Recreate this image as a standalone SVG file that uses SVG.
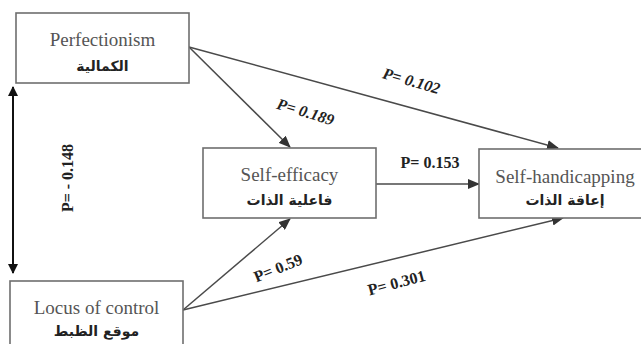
<svg xmlns="http://www.w3.org/2000/svg" width="641" height="344" viewBox="0 0 641 344">
<style>
.box{fill:#fff;stroke:#6e6e6e;stroke-width:1.6}
.en{font-family:"Liberation Serif","Times New Roman",serif;font-size:19px;fill:#555;text-anchor:middle}
.ar{font-family:"DejaVu Sans","Noto Sans",sans-serif;font-size:14px;font-weight:bold;fill:#222;text-anchor:middle}
.lbl{font-family:"Liberation Serif","Times New Roman",serif;font-size:16px;font-weight:bold;fill:#222;text-anchor:middle}
.it{font-style:italic}
.ln{stroke:#4a4a4a;stroke-width:1.5;fill:none}
</style>
<defs>
<marker id="ah" markerWidth="12" markerHeight="10" refX="11" refY="5" orient="auto" markerUnits="userSpaceOnUse">
<path d="M0,0 L12,5 L0,10 Z" fill="#333"/>
</marker>
<marker id="ab" markerWidth="10" markerHeight="10" refX="9" refY="5" orient="auto" markerUnits="userSpaceOnUse">
<path d="M0,0 L10,5 L0,10 Z" fill="#111"/>
</marker>
<marker id="as" markerWidth="10" markerHeight="10" refX="1" refY="5" orient="auto" markerUnits="userSpaceOnUse">
<path d="M10,0 L0,5 L10,10 Z" fill="#111"/>
</marker>
</defs>
<g id="connectors">
<line class="ln" x1="189" y1="47" x2="290" y2="147" marker-end="url(#ah)"/>
<line class="ln" x1="189" y1="47" x2="558" y2="148" marker-end="url(#ah)"/>
<line class="ln" x1="376" y1="184" x2="479" y2="184" marker-end="url(#ah)"/>
<line class="ln" x1="183" y1="310" x2="290" y2="219" marker-end="url(#ah)"/>
<line class="ln" x1="183" y1="310" x2="563" y2="218" marker-end="url(#ah)"/>
<line x1="13" y1="87" x2="13" y2="273" stroke="#111" stroke-width="2" marker-start="url(#as)" marker-end="url(#ab)"/>
<text class="lbl it" transform="translate(410,86) rotate(16)">P= 0.102</text>
<text class="lbl it" transform="translate(304,117) rotate(17)">P= 0.189</text>
<text class="lbl" x="430" y="168">P= 0.153</text>
<text class="lbl" transform="translate(280,273) rotate(-22)">P= 0.59</text>
<text class="lbl" transform="translate(398,288) rotate(-15)">P= 0.301</text>
<text class="lbl" transform="translate(73,178) rotate(-90)">P= - 0.148</text>
</g>
<g id="perfectionism">
<rect class="box" x="16" y="13" width="173" height="70"/>
<text class="en" x="102.5" y="46">Perfectionism</text>
<text class="ar" x="102.5" y="71">الكمالية</text>
</g>
<g id="locus">
<rect class="box" x="10" y="281" width="173" height="70"/>
<text class="en" x="96.5" y="314">Locus of control</text>
<text class="ar" x="96.5" y="336">موقع الظبط</text>
</g>
<g id="selfefficacy">
<rect class="box" x="203" y="148" width="173" height="70"/>
<text class="en" x="289.5" y="181">Self-efficacy</text>
<text class="ar" x="289.5" y="205">فاعلية الذات</text>
</g>
<g id="selfhandicapping">
<rect class="box" x="479" y="149" width="175" height="69"/>
<text class="en" x="565" y="183">Self-handicapping</text>
<text class="ar" x="565" y="205">إعاقة الذات</text>
</g>
</svg>
